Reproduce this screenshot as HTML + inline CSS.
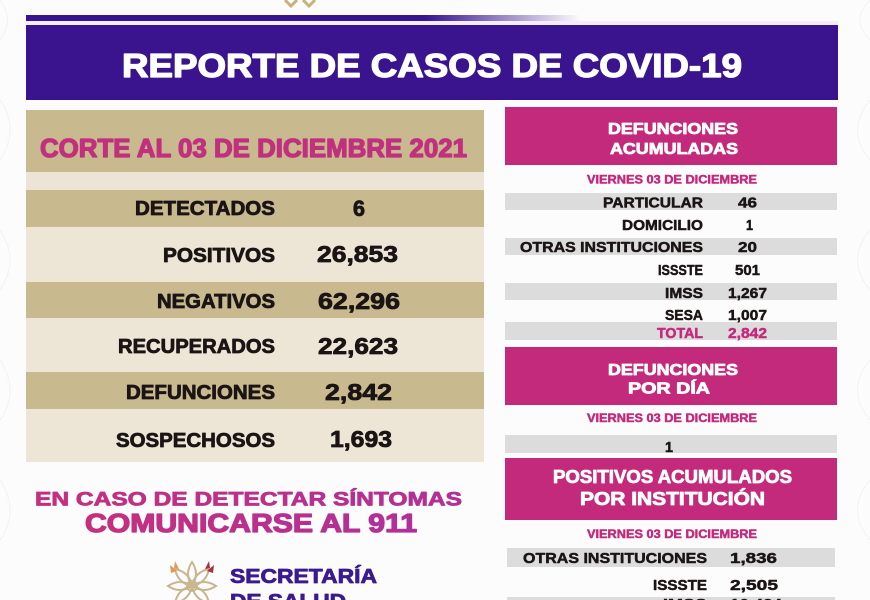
<!DOCTYPE html>
<html>
<head>
<meta charset="utf-8">
<style>
html,body{margin:0;padding:0;background:#fff;}
svg{display:block;}
text{font-family:"Liberation Sans",sans-serif;font-weight:bold;}
.h1{stroke-width:1.3;stroke-linejoin:round;}
.h2{stroke-width:0.8;stroke-linejoin:round;}
.h3{stroke-width:0.5;stroke-linejoin:round;}
</style>
</head>
<body>
<svg width="870" height="600" viewBox="0 0 870 600" xmlns="http://www.w3.org/2000/svg">
<defs>
<linearGradient id="barg" x1="0" x2="1" y1="0" y2="0">
<stop offset="0" stop-color="#3a148e"/>
<stop offset="0.72" stop-color="#3a148e"/>
<stop offset="1" stop-color="#3a148e" stop-opacity="0"/>
</linearGradient>
<linearGradient id="pinkg" x1="0" x2="1" y1="0" y2="0">
<stop offset="0" stop-color="#c5307e"/>
<stop offset="1" stop-color="#b0309a"/>
</linearGradient>
</defs>
<rect x="0" y="0" width="870" height="600" fill="#fdfcfc"/>
<!-- faint pattern -->
<g fill="none" stroke="#f5f2f2" stroke-width="1.2">
<path d="M0 40 Q15 20 0 0 M0 160 Q20 130 0 100 M0 290 Q20 260 0 230 M0 420 Q20 390 0 360 M0 540 Q20 510 0 480"/>
<path d="M870 40 Q850 20 870 0 M870 160 Q845 130 870 100 M870 290 Q845 260 870 230 M870 420 Q845 390 870 360 M870 540 Q845 510 870 480"/>
</g>

<!-- top ornament -->
<g fill="none" stroke="#c9b27a" stroke-width="3">
<path d="M285 0 L291 6 L297 0"/>
<path d="M303 0 L309 6 L315 0"/>
</g>

<!-- top thin bar -->
<rect x="26" y="15" width="555" height="6" fill="url(#barg)"/>
<rect x="26" y="21" width="812" height="4" fill="#f3ecfa"/>

<!-- main banner -->
<rect x="26" y="25" width="812" height="75" fill="#3a148e"/>
<text class="h1" x="122" y="77" font-size="33" fill="#ffffff" stroke="#ffffff" textLength="620" lengthAdjust="spacingAndGlyphs">REPORTE DE CASOS DE COVID-19</text>

<!-- left panel -->
<rect x="26" y="110" width="458" height="62" fill="#c9b98f"/>
<rect x="26" y="172" width="458" height="18" fill="#ece5d6"/>
<rect x="26" y="190" width="458" height="37" fill="#c9b98f"/>
<rect x="26" y="227" width="458" height="55" fill="#ede6d7"/>
<rect x="26" y="282" width="458" height="36" fill="#c9b98f"/>
<rect x="26" y="318" width="458" height="54" fill="#ede6d7"/>
<rect x="26" y="372" width="458" height="37" fill="#c9b98f"/>
<rect x="26" y="409" width="458" height="53" fill="#ede6d7"/>

<text class="h1" x="40" y="157" font-size="26" fill="#c0307e" stroke="#c0307e" textLength="427" lengthAdjust="spacingAndGlyphs">CORTE AL 03 DE DICIEMBRE 2021</text>

<g fill="#1a1414" stroke="#1a1414" class="h2">
<text x="135" y="215" font-size="20" textLength="140" lengthAdjust="spacingAndGlyphs">DETECTADOS</text>
<text x="353" y="216" font-size="22" textLength="12" lengthAdjust="spacingAndGlyphs">6</text>
<text x="163" y="262" font-size="20" textLength="112" lengthAdjust="spacingAndGlyphs">POSITIVOS</text>
<text x="317" y="262" font-size="23" textLength="81" lengthAdjust="spacingAndGlyphs">26,853</text>
<text x="157" y="308" font-size="20" textLength="118" lengthAdjust="spacingAndGlyphs">NEGATIVOS</text>
<text x="318" y="309" font-size="23" textLength="82" lengthAdjust="spacingAndGlyphs">62,296</text>
<text x="118" y="353" font-size="20" textLength="157" lengthAdjust="spacingAndGlyphs">RECUPERADOS</text>
<text x="318" y="354" font-size="23" textLength="80" lengthAdjust="spacingAndGlyphs">22,623</text>
<text x="126" y="399" font-size="20" textLength="149" lengthAdjust="spacingAndGlyphs">DEFUNCIONES</text>
<text x="325" y="400" font-size="23" textLength="67" lengthAdjust="spacingAndGlyphs">2,842</text>
<text x="116" y="447" font-size="20" textLength="159" lengthAdjust="spacingAndGlyphs">SOSPECHOSOS</text>
<text x="330" y="447" font-size="23" textLength="62" lengthAdjust="spacingAndGlyphs">1,693</text>
</g>

<!-- bottom left -->
<text class="h2" x="35" y="505.5" font-size="19" fill="url(#pinkg)" stroke="url(#pinkg)" textLength="427" lengthAdjust="spacingAndGlyphs">EN CASO DE DETECTAR SÍNTOMAS</text>
<text class="h1" x="85" y="532" font-size="26" fill="url(#pinkg)" stroke="url(#pinkg)" textLength="332" lengthAdjust="spacingAndGlyphs">COMUNICARSE AL 911</text>

<!-- logo flower -->
<g fill="none" stroke="#c8b78e" stroke-width="2" transform="translate(192 586)">
<path d="M0 0 Q-8 -12 0 -24 Q8 -12 0 0"/>
<path d="M0 0 Q-8 -12 0 -24 Q8 -12 0 0" transform="rotate(45)"/>
<path d="M0 0 Q-8 -12 0 -24 Q8 -12 0 0" transform="rotate(-45)"/>
<path d="M0 0 Q-8 -12 0 -24 Q8 -12 0 0" transform="rotate(90)"/>
<path d="M0 0 Q-8 -12 0 -24 Q8 -12 0 0" transform="rotate(-90)"/>
<path d="M0 0 Q-8 -12 0 -24 Q8 -12 0 0" transform="rotate(135)"/>
<path d="M0 0 Q-8 -12 0 -24 Q8 -12 0 0" transform="rotate(-135)"/>
<circle cx="0" cy="0" r="5"/>
</g>
<path d="M170 565 L177 571 L171 573 Z" fill="#e09a55"/>
<path d="M175 561 L179 569 L174 568 Z" fill="#e09a55"/>
<path d="M214 565 L207 571 L213 573 Z" fill="#a83040"/>
<path d="M209 561 L205 569 L210 568 Z" fill="#a83040"/>
<text class="h2" x="230" y="583" font-size="20" fill="#3b1a8f" stroke="#3b1a8f" textLength="147" lengthAdjust="spacingAndGlyphs">SECRETARÍA</text>
<text class="h2" x="230" y="608" font-size="20" fill="#3b1a8f" stroke="#3b1a8f" textLength="116" lengthAdjust="spacingAndGlyphs">DE SALUD</text>

<!-- right: defunciones acumuladas -->
<rect x="505" y="107" width="332" height="58" fill="#c42a7c"/>
<text class="h2" x="608" y="134" font-size="16" fill="#fff" stroke="#fff" textLength="130" lengthAdjust="spacingAndGlyphs">DEFUNCIONES</text>
<text class="h2" x="610" y="154" font-size="16" fill="#fff" stroke="#fff" textLength="128" lengthAdjust="spacingAndGlyphs">ACUMULADAS</text>
<text class="h3" x="587" y="183.5" font-size="12" fill="#c42a7c" stroke="#c42a7c" textLength="170" lengthAdjust="spacingAndGlyphs">VIERNES 03 DE DICIEMBRE</text>

<rect x="505" y="193" width="332" height="17" fill="#dcdcdc"/>
<rect x="505" y="238" width="332" height="17" fill="#dcdcdc"/>
<rect x="505" y="283" width="332" height="17" fill="#dcdcdc"/>
<rect x="505" y="322" width="332" height="18" fill="#dcdcdc"/>

<g fill="#1a1414" stroke="#1a1414" class="h3">
<text x="603" y="207.5" font-size="14.5" textLength="100" lengthAdjust="spacingAndGlyphs">PARTICULAR</text>
<text x="738" y="207.5" font-size="14.5" textLength="19" lengthAdjust="spacingAndGlyphs">46</text>
<text x="622" y="230" font-size="14.5" textLength="81" lengthAdjust="spacingAndGlyphs">DOMICILIO</text>
<text x="746" y="230" font-size="14.5" textLength="7" lengthAdjust="spacingAndGlyphs">1</text>
<text x="520" y="252" font-size="14.5" textLength="183" lengthAdjust="spacingAndGlyphs">OTRAS INSTITUCIONES</text>
<text x="738" y="252" font-size="14.5" textLength="19" lengthAdjust="spacingAndGlyphs">20</text>
<text x="658" y="275" font-size="14.5" textLength="45" lengthAdjust="spacingAndGlyphs">ISSSTE</text>
<text x="735" y="275" font-size="14.5" textLength="25" lengthAdjust="spacingAndGlyphs">501</text>
<text x="665" y="298" font-size="14.5" textLength="38" lengthAdjust="spacingAndGlyphs">IMSS</text>
<text x="728" y="298" font-size="14.5" textLength="39" lengthAdjust="spacingAndGlyphs">1,267</text>
<text x="665" y="320" font-size="14.5" textLength="38" lengthAdjust="spacingAndGlyphs">SESA</text>
<text x="728" y="320" font-size="14.5" textLength="39" lengthAdjust="spacingAndGlyphs">1,007</text>
</g>
<text class="h3" x="657" y="338" font-size="14.5" fill="#c42a7c" stroke="#c42a7c" textLength="46" lengthAdjust="spacingAndGlyphs">TOTAL</text>
<text class="h3" x="728" y="338" font-size="14.5" fill="#c42a7c" stroke="#c42a7c" textLength="39" lengthAdjust="spacingAndGlyphs">2,842</text>

<!-- defunciones por dia -->
<rect x="505" y="347" width="332" height="58" fill="#c42a7c"/>
<text class="h2" x="608" y="375" font-size="16" fill="#fff" stroke="#fff" textLength="130" lengthAdjust="spacingAndGlyphs">DEFUNCIONES</text>
<text class="h2" x="628" y="393.5" font-size="16" fill="#fff" stroke="#fff" textLength="82" lengthAdjust="spacingAndGlyphs">POR DÍA</text>
<text class="h3" x="587" y="422" font-size="12" fill="#c42a7c" stroke="#c42a7c" textLength="170" lengthAdjust="spacingAndGlyphs">VIERNES 03 DE DICIEMBRE</text>
<rect x="505" y="435" width="332" height="18" fill="#dcdcdc"/>
<text class="h3" x="665" y="452" font-size="15" fill="#1a1414" stroke="#1a1414" textLength="8" lengthAdjust="spacingAndGlyphs">1</text>

<!-- positivos acumulados -->
<rect x="505" y="458" width="332" height="62" fill="#c42a7c"/>
<text class="h2" x="553" y="483" font-size="18" fill="#fff" stroke="#fff" textLength="239" lengthAdjust="spacingAndGlyphs">POSITIVOS ACUMULADOS</text>
<text class="h2" x="580" y="505" font-size="18" fill="#fff" stroke="#fff" textLength="185" lengthAdjust="spacingAndGlyphs">POR INSTITUCIÓN</text>
<text class="h3" x="587" y="538" font-size="12" fill="#c42a7c" stroke="#c42a7c" textLength="170" lengthAdjust="spacingAndGlyphs">VIERNES 03 DE DICIEMBRE</text>
<rect x="507" y="548" width="328" height="19" fill="#dcdcdc"/>
<rect x="507" y="597" width="328" height="19" fill="#dcdcdc"/>
<g fill="#1a1414" stroke="#1a1414" class="h3">
<text x="523" y="563" font-size="15" textLength="184" lengthAdjust="spacingAndGlyphs">OTRAS INSTITUCIONES</text>
<text x="730" y="563" font-size="15" textLength="47" lengthAdjust="spacingAndGlyphs">1,836</text>
<text x="653" y="590" font-size="15" textLength="54" lengthAdjust="spacingAndGlyphs">ISSSTE</text>
<text x="730" y="590" font-size="15" textLength="48" lengthAdjust="spacingAndGlyphs">2,505</text>
<text x="663" y="609" font-size="15" textLength="44" lengthAdjust="spacingAndGlyphs">IMSS</text>
<text x="730" y="609" font-size="15" textLength="52" lengthAdjust="spacingAndGlyphs">10,424</text>
</g>
</svg>
</body>
</html>
